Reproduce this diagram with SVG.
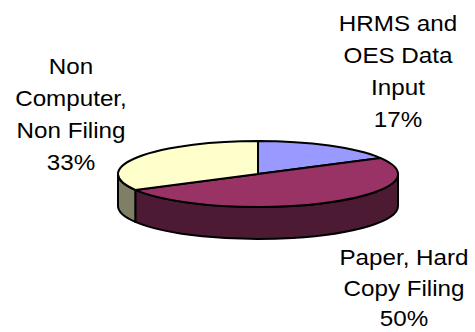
<svg xmlns="http://www.w3.org/2000/svg" width="475" height="332" viewBox="0 0 475 332">
<style>
.edge{stroke:#000;stroke-width:2;stroke-linejoin:round}
.lbl{font-family:"Liberation Sans",Arial,sans-serif;font-size:22px;fill:#000;text-anchor:middle}
</style>
<rect width="475" height="332" fill="#fff"/>
<g id="pie">
  <g id="side-paper">
    <path class="edge" fill="#4D1A33" d="M398,174 A140,33 0 0,1 135.3,189.9 L135.3,221.9 A140,33 0 0,0 398,206 Z"/>
  </g>
  <g id="side-noncomputer">
    <path class="edge" fill="#7F7F66" d="M135.3,189.9 A140,33 0 0,1 118,174 L118,206 A140,33 0 0,0 135.3,221.9 Z"/>
  </g>
  <g id="slice-hrms">
    <path class="edge" fill="#9999FF" d="M258,174 L258,141 A140,33 0 0,1 380.7,158.1 Z"/>
  </g>
  <g id="slice-paper">
    <path class="edge" fill="#993366" d="M258,174 L380.7,158.1 A140,33 0 0,1 258,207 A140,33 0 0,1 135.3,189.9 Z"/>
  </g>
  <g id="slice-noncomputer">
    <path class="edge" fill="#FFFFCC" d="M258,174 L135.3,189.9 A140,33 0 0,1 258,141 Z"/>
  </g>
</g>
<g id="label-hrms" transform="translate(398,0) scale(1.1,1)">
  <text class="lbl" x="0" y="31">HRMS and</text>
  <text class="lbl" x="0" y="63">OES Data</text>
  <text class="lbl" x="0" y="95">Input</text>
  <text class="lbl" x="0" y="127">17%</text>
</g>
<g id="label-noncomputer" transform="translate(71,0) scale(1.1,1)">
  <text class="lbl" x="0" y="74">Non</text>
  <text class="lbl" x="0" y="106">Computer,</text>
  <text class="lbl" x="0" y="138">Non Filing</text>
  <text class="lbl" x="0" y="170">33%</text>
</g>
<g id="label-paper" transform="translate(404,0) scale(1.1,1)">
  <text class="lbl" x="0" y="265">Paper, Hard</text>
  <text class="lbl" x="0" y="296">Copy Filing</text>
  <text class="lbl" x="0" y="326">50%</text>
</g>
</svg>
